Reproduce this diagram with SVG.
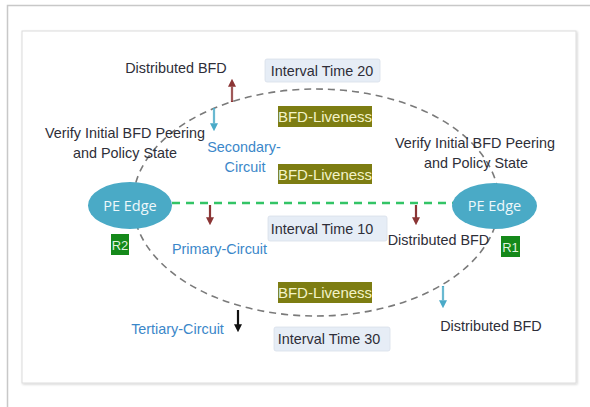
<svg xmlns="http://www.w3.org/2000/svg" width="590" height="407" viewBox="0 0 590 407">
  <style>
    .lbl { font-family: "Liberation Sans", Arial, sans-serif; font-size: 14.4px; fill: #2e2e38; }
    .blue { fill: #3b87c9; }
    .tag { fill: #e6edf6; stroke: #d8e0ea; stroke-width: 0.8; }
    .olive { fill: #7d7d12; }
    .olive-t { font-family: "Liberation Sans", Arial, sans-serif; font-size: 15px; fill: #f3f3c8; }
    .node { fill: #4aaac6; }
    .node-t { font-family: "Open Sans", "Liberation Sans", sans-serif; font-size: 14.5px; fill: #eef8fb; }
    .rbox { fill: #15891a; }
    .rbox-t { font-family: "Liberation Sans", Arial, sans-serif; font-size: 13px; fill: #dff2df; }
    .arr { stroke-width: 2.2; fill: none; }
    .core { stroke-width: 0.8; stroke: #fff; stroke-opacity: 0.45; }
  </style>
  <defs>
    <marker id="hRed" viewBox="0 0 10 10" refX="6" refY="5" markerWidth="8" markerHeight="8" markerUnits="userSpaceOnUse" orient="auto"><path d="M0,0 L10,5 L0,10 z" fill="#8b3535"/></marker>
    <marker id="hBlue" viewBox="0 0 10 10" refX="6" refY="5" markerWidth="8" markerHeight="8" markerUnits="userSpaceOnUse" orient="auto"><path d="M0,0 L10,5 L0,10 z" fill="#4aaac8"/></marker>
    <marker id="hBlack" viewBox="0 0 10 10" refX="6" refY="5" markerWidth="8" markerHeight="8" markerUnits="userSpaceOnUse" orient="auto"><path d="M0,0 L10,5 L0,10 z" fill="#111"/></marker>
    <filter id="sh" x="-5%" y="-5%" width="110%" height="110%">
      <feDropShadow dx="1" dy="1" stdDeviation="1" flood-color="#000" flood-opacity="0.18"/>
    </filter>
  </defs>

  <!-- page and panel -->
  <rect x="0" y="0" width="590" height="407" fill="#fff"/>
  <rect x="7.5" y="5.5" width="620" height="430" fill="none" stroke="#c8c8c8" stroke-width="1.5"/>
  <rect x="22" y="31" width="554" height="352" fill="#fff" stroke="#dcdcdc" filter="url(#sh)"/>

  <!-- connectors -->
  <g id="connectors">
    <ellipse cx="316" cy="202.5" rx="183" ry="113.5" fill="none" stroke="#7a7a7a" stroke-width="1.6" stroke-dasharray="7,5"/>
    <line x1="172" y1="203" x2="453" y2="203" stroke="#33c466" stroke-width="2.6" stroke-dasharray="8,6"/>
    <line class="arr" x1="232" y1="102" x2="232" y2="82" stroke="#8b3535" marker-end="url(#hRed)"/>
    <line class="core" x1="232" y1="101" x2="232" y2="86"/>
    <line class="arr" x1="214" y1="108" x2="214" y2="128" stroke="#4aaac8" marker-end="url(#hBlue)"/>
    <line class="core" x1="214" y1="109" x2="214" y2="124"/>
    <line class="arr" x1="210" y1="205" x2="210" y2="222" stroke="#8b3535" marker-end="url(#hRed)"/>
    <line class="arr" x1="416" y1="205" x2="416" y2="222" stroke="#8b3535" marker-end="url(#hRed)"/>
    <line class="arr" x1="238" y1="310" x2="238" y2="329" stroke="#111" marker-end="url(#hBlack)"/>
    <line class="arr" x1="443" y1="286" x2="443" y2="305" stroke="#4aaac8" marker-end="url(#hBlue)"/>
    <line class="core" x1="443" y1="287" x2="443" y2="301"/>
  </g>

  <!-- left edge router -->
  <g id="pe-left">
    <ellipse class="node" cx="130" cy="205.5" rx="42" ry="23.5"/>
    <text class="node-t" x="130" y="210.5" text-anchor="middle">PE Edge</text>
  </g>
  <g id="r2">
    <rect class="rbox" x="111" y="234" width="18" height="21"/>
    <text class="rbox-t" x="120" y="249.5" text-anchor="middle">R2</text>
  </g>

  <!-- right edge router -->
  <g id="pe-right">
    <ellipse class="node" cx="494.5" cy="206" rx="42.5" ry="23"/>
    <text class="node-t" x="494.5" y="211" text-anchor="middle">PE Edge</text>
  </g>
  <g id="r1">
    <rect class="rbox" x="501" y="236" width="19" height="21"/>
    <text class="rbox-t" x="510.5" y="251.5" text-anchor="middle">R1</text>
  </g>

  <!-- liveness markers -->
  <g id="liveness-top">
    <rect class="olive" x="278" y="106" width="94" height="21"/>
    <text class="olive-t" x="325" y="122" text-anchor="middle">BFD-Liveness</text>
  </g>
  <g id="liveness-mid">
    <rect class="olive" x="278" y="164" width="94" height="20"/>
    <text class="olive-t" x="325" y="179.5" text-anchor="middle">BFD-Liveness</text>
  </g>
  <g id="liveness-bottom">
    <rect class="olive" x="278" y="282" width="94" height="21"/>
    <text class="olive-t" x="325" y="298" text-anchor="middle">BFD-Liveness</text>
  </g>

  <!-- interval tags -->
  <g id="interval-20">
    <rect class="tag" x="265" y="59" width="115" height="23" rx="2"/>
    <text class="lbl" x="322" y="76" text-anchor="middle">Interval Time 20</text>
  </g>
  <g id="interval-10">
    <rect class="tag" x="268" y="216" width="119" height="25" rx="2"/>
    <text class="lbl" x="322" y="233.5" text-anchor="middle">Interval Time 10</text>
  </g>
  <g id="interval-30">
    <rect class="tag" x="274" y="327" width="116" height="24" rx="2"/>
    <text class="lbl" x="329" y="344" text-anchor="middle">Interval Time 30</text>
  </g>

  <!-- annotations -->
  <g id="labels">
    <text class="lbl" x="176" y="73" text-anchor="middle">Distributed BFD</text>
    <text class="lbl" x="125" y="138" text-anchor="middle">Verify Initial BFD Peering</text>
    <text class="lbl" x="125" y="158" text-anchor="middle">and Policy State</text>
    <text class="lbl" x="475" y="148" text-anchor="middle">Verify Initial BFD Peering</text>
    <text class="lbl" x="476" y="168" text-anchor="middle">and Policy State</text>
    <text class="lbl blue" x="244" y="152" text-anchor="middle">Secondary-</text>
    <text class="lbl blue" x="245" y="172" text-anchor="middle">Circuit</text>
    <text class="lbl blue" x="219.5" y="254" text-anchor="middle">Primary-Circuit</text>
    <text class="lbl" x="438.5" y="245" text-anchor="middle">Distributed BFD</text>
    <text class="lbl blue" x="177.5" y="334" text-anchor="middle">Tertiary-Circuit</text>
    <text class="lbl" x="491" y="331" text-anchor="middle">Distributed BFD</text>
  </g>
</svg>
